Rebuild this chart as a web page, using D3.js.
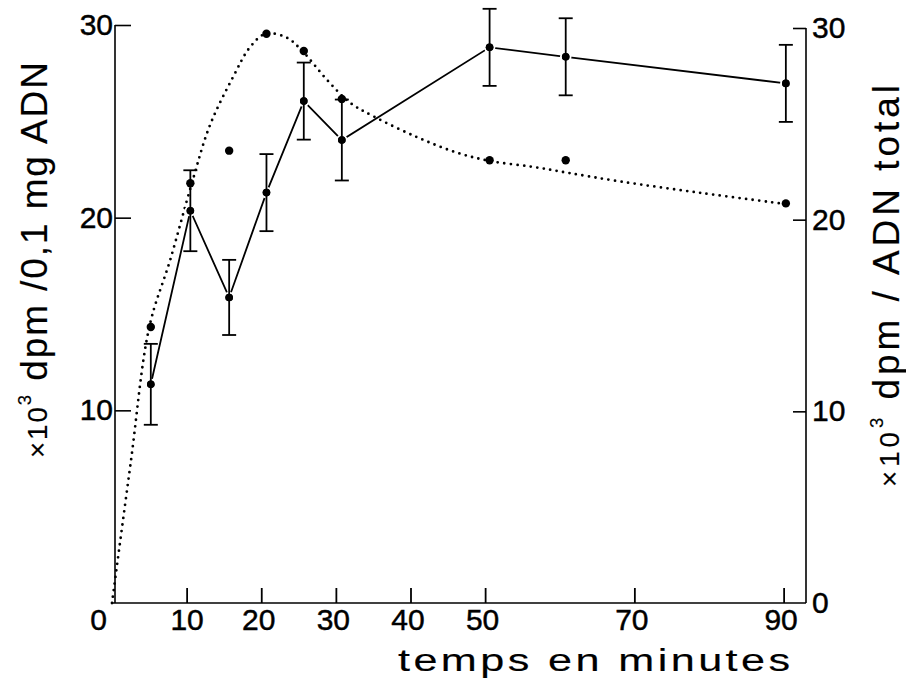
<!DOCTYPE html>
<html>
<head>
<meta charset="utf-8">
<script src="https://cdn.jsdelivr.net/npm/d3@7"></script>
<style>
  html, body { margin: 0; padding: 0; background: #fff; }
  svg { display: block; }
  text { font-family: "Liberation Sans", Arial, Helvetica, sans-serif; fill: #000; }
  .tick text { stroke: #000; stroke-width: 0.45px; }
  .title { stroke: #000; stroke-width: 0.15px; }
</style>
</head>
<body>
<svg id="chart" width="906" height="678"></svg>
<script>
// ---- data ----
const times      = [5.2, 10.5, 15.7, 20.7, 25.7, 30.8, 50.6, 60.8, 90.3];
const solidVals  = [11.35, 20.36, 15.86, 21.3, 26.05, 24.03, 28.84, 28.35, 26.97]; // left axis
const solidErr   = [2.1, 2.1, 1.95, 2.0, 2.0, 2.1, 2.0, 2.0, 2.0];
const dottedVals = [14.4, 21.9, 23.6, 29.7, 28.8, 26.3, 23.1, 23.1, 20.85];         // right axis
const curveTimes = [0, 2.5, 5.0, 7.8, 10.7, 13.1, 16.3, 18.5, 20.6, 23.4, 25.5, 28.8, 31.9, 35.0, 40.9, 46.2, 50.8, 56.5, 61.0, 68.0, 78.8, 89.6];
const curveVals  = [0, 7.3, 14.4, 17.9, 21.9, 24.9, 27.5, 29.0, 29.7, 29.5, 28.8, 27.3, 26.1, 25.4, 24.3, 23.5, 23.05, 22.75, 22.45, 22.0, 21.4, 20.85];
const xTicks      = [0, 10, 20, 30, 40, 50, 70, 90];
const yLeftTicks  = [10, 20, 30];
const yRightTicks = [0, 10, 20, 30];
const xTitle = "temps en minutes";
const yLeftTitle  = ["×10", "3", " dpm /0,1 mg ADN"];
const yRightTitle = ["×10", "3", " dpm / ADN total"];

// ---- layout ----
const svg = d3.select("#chart");
const x  = d3.scaleLinear().domain([0, 93]).range([112, 806]);
const yL = d3.scaleLinear().domain([0, 30]).range([603, 25]);
const yR = d3.scaleLinear().domain([0, 30]).range([603, 28]);
const leftX = 115, rightX = x(93), baseY = yL(0);
const tickFont = 30;

// frame lines
svg.append("line").attr("x1", leftX).attr("x2", leftX).attr("y1", yL(30)).attr("y2", baseY)
  .attr("stroke", "#000").attr("stroke-width", 1.6);
svg.append("line").attr("x1", rightX).attr("x2", rightX).attr("y1", yR(30)).attr("y2", baseY)
  .attr("stroke", "#000").attr("stroke-width", 1.6);
svg.append("line").attr("x1", x(0)).attr("x2", rightX).attr("y1", baseY).attr("y2", baseY)
  .attr("stroke", "#000").attr("stroke-width", 1.6);

// bottom axis
const gx = svg.append("g").attr("transform", `translate(0,${baseY})`)
  .call(d3.axisBottom(x).tickValues(xTicks).tickSizeInner(-15).tickSizeOuter(0).tickPadding(6).tickFormat(d3.format("d")));
gx.select(".domain").remove();
gx.selectAll(".tick line").attr("stroke", "#000").attr("stroke-width", 1.8)
  .filter(d => d === 0).remove();
gx.selectAll(".tick text").attr("font-size", tickFont).attr("fill", "#000")
  .attr("font-family", null)
  .attr("transform", d => `translate(${d === 0 ? -14 : (d >= 20 ? -3 : 0)},0)`);

// left axis
const gl = svg.append("g").attr("transform", `translate(${leftX},0)`)
  .call(d3.axisLeft(yL).tickValues(yLeftTicks).tickSizeInner(-16).tickSizeOuter(0).tickPadding(2).tickFormat(d3.format("d")));
gl.select(".domain").remove();
gl.selectAll(".tick line").attr("stroke", "#000").attr("stroke-width", 1.6);
gl.selectAll(".tick text").attr("font-size", tickFont).attr("fill", "#000").attr("font-family", null);

// right axis
const gr = svg.append("g").attr("transform", `translate(${rightX},0)`)
  .call(d3.axisRight(yR).tickValues(yRightTicks).tickSizeInner(-13).tickSizeOuter(0).tickPadding(6).tickFormat(d3.format("d")));
gr.select(".domain").remove();
gr.selectAll(".tick line").attr("stroke", "#000").attr("stroke-width", 1.6)
  .filter(d => d === 0).remove();
gr.selectAll(".tick text").attr("font-size", tickFont).attr("fill", "#000").attr("font-family", null);

// axis titles
const xStretch = 1.35;
svg.append("text").attr("class", "title").attr("transform", `translate(398,671) scale(${xStretch},1)`)
  .attr("font-size", 32).attr("textLength", 392 / xStretch).attr("lengthAdjust", "spacing")
  .text(xTitle);

function vTitle(tx, ty, len, size, parts) {
  const t = svg.append("text").attr("class", "title").attr("transform", `translate(${tx},${ty}) rotate(-90)`)
    .attr("font-size", size).attr("textLength", len).attr("lengthAdjust", "spacing");
  t.append("tspan").attr("font-size", size * 0.75).text(parts[0]);
  t.append("tspan").attr("font-size", size * 0.5).attr("dy", -size * 0.42).text(parts[1]);
  t.append("tspan").attr("dy", size * 0.42).text(parts[2]);
}
vTitle(47, 458, 396, 37, yLeftTitle);
vTitle(899, 487, 402, 37, yRightTitle);

// dotted curve (right axis)
const curvePts = curveTimes.map((t, i) => [x(t), yR(curveVals[i])]);
svg.append("path")
  .attr("d", d3.line().curve(d3.curveCatmullRom.alpha(0.5))(curvePts))
  .attr("fill", "none").attr("stroke", "#000").attr("stroke-width", 2.8)
  .attr("stroke-linecap", "round").attr("stroke-dasharray", "0 6.6");

// solid line (left axis)
const solidPts = times.map((t, i) => [x(t), yL(solidVals[i])]);
svg.append("path").attr("d", d3.line()(solidPts))
  .attr("fill", "none").attr("stroke", "#000").attr("stroke-width", 1.8);

// dotted-series markers
svg.selectAll(".mk2").data(times).join("circle").attr("class", "mk2")
  .attr("cx", d => x(d)).attr("cy", (d, i) => yR(dottedVals[i])).attr("r", 4.2)
  .attr("fill", "#000");

// solid-series markers with white halo
svg.selectAll(".mk1").data(times).join("circle").attr("class", "mk1")
  .attr("cx", d => x(d)).attr("cy", (d, i) => yL(solidVals[i])).attr("r", 3.8)
  .attr("fill", "#000").attr("stroke", "#fff").attr("stroke-width", 4).attr("paint-order", "stroke");

// error bars
const eb = svg.selectAll(".eb").data(times).join("g").attr("class", "eb");
eb.append("line")
  .attr("x1", d => x(d)).attr("x2", d => x(d))
  .attr("y1", (d, i) => yL(solidVals[i] + solidErr[i])).attr("y2", (d, i) => yL(solidVals[i] - solidErr[i]))
  .attr("stroke", "#000").attr("stroke-width", 1.8);
[1, -1].forEach(s => {
  eb.append("line")
    .attr("x1", d => x(d) - 7).attr("x2", d => x(d) + 7)
    .attr("y1", (d, i) => yL(solidVals[i] + s * solidErr[i])).attr("y2", (d, i) => yL(solidVals[i] + s * solidErr[i]))
    .attr("stroke", "#000").attr("stroke-width", 1.8);
});
// marker cores on top of bars
svg.selectAll(".mk1c").data(times).join("circle").attr("class", "mk1c")
  .attr("cx", d => x(d)).attr("cy", (d, i) => yL(solidVals[i])).attr("r", 3.8).attr("fill", "#000");
</script>
</body>
</html>
